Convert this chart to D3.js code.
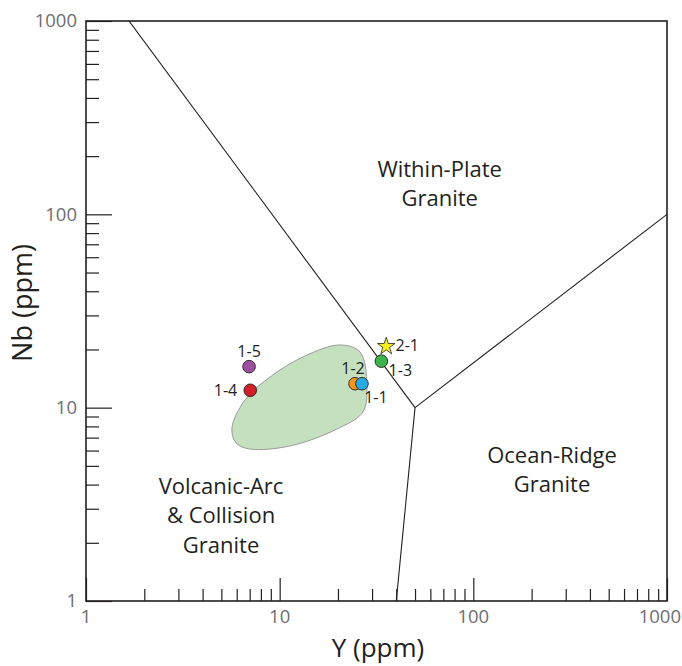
<!DOCTYPE html>
<html><head><meta charset="utf-8">
<script src="https://cdn.jsdelivr.net/npm/d3@7"></script>
<style>body{margin:0;background:#fff}svg{display:block}text{font-family:"Open Sans",sans-serif}</style>
</head><body><svg id="c" width="682" height="666"></svg>
<script>
// Samples
const sampleNames = ["1-5","1-4","1-2","1-1","1-3","2-1"];
const sampleY  = [6.95, 7.05, 24.5, 26.6, 33.5, 35.5];
const sampleNb = [16.3, 12.3, 13.3, 13.3, 17.4, 21.0];
const sampleColors = ["#9d4e9f","#d21f2b","#f7941d","#27aae1","#3cb44a","#f5f01e"];
const sampleShapes = ["circle","circle","circle","circle","circle","star"];
// Green reference field outline (Y, Nb)
const fieldY  = [5.67, 6.62, 8.91, 13.5, 20.5, 26.0, 28.2, 26.9, 19.3, 11.3, 7.02, 5.95];
const fieldNb = [7.85, 10.96, 14.4, 18.5, 21.1, 19.4, 13.1, 9.5, 7.67, 6.34, 6.11, 6.57];
// Discrimination boundaries (Pearce et al. 1984)
const boundaryA = [[1, 2000], [50, 10]];   // WPG / VAG+syn-COLG
const boundaryB = [[50, 10], [1000, 100]]; // WPG / ORG
const boundaryC = [[50, 10], [40, 1]];     // VAG / ORG
// Region labels
const regionLabels = [
  {lines:["Within-Plate","Granite"], Y:67, Nb:156},
  {lines:["Ocean-Ridge","Granite"], Y:255, Nb:5.2},
  {lines:["Volcanic-Arc","& Collision","Granite"], Y:4.98, Nb:3.58}
];
const xTicks = [1,10,100,1000];
const yTicks = [1,10,100,1000];

const svg = d3.select("#c");
const L=86,R=667,T=21,B=601;
const x = d3.scaleLog().domain([1,1000]).range([L,R]);
const y = d3.scaleLog().domain([1,1000]).range([B,T]);

const defs = svg.append("defs");
defs.append("clipPath").attr("id","clip").append("rect").attr("x",L).attr("y",T).attr("width",R-L).attr("height",B-T);

// field
const field = fieldY.map((v,i)=>[x(v), y(fieldNb[i])]);
svg.append("path").attr("d", d3.line().curve(d3.curveCatmullRomClosed.alpha(0.5))(field))
  .attr("fill","#c5e0bf").attr("stroke","#9a9a9a").attr("stroke-width",1);

// boundaries
const g = svg.append("g").attr("clip-path","url(#clip)");
[boundaryA,boundaryB,boundaryC].forEach(b=>{
  g.append("path").attr("d", d3.line().x(d=>x(d[0])).y(d=>y(d[1]))(b))
   .attr("fill","none").attr("stroke","#231f20").attr("stroke-width",1.1);
});

// minor/major ticks via axes
const allTicks = [];
for (let e=0;e<3;e++) for (let k=1;k<10;k++) allTicks.push(k*Math.pow(10,e));
allTicks.push(1000);
const minor = allTicks.filter(t=>!xTicks.includes(t));
const xAxMinor = d3.axisTop(x).tickValues(minor).tickSize(12).tickFormat("");
const xAxMajor = d3.axisTop(x).tickValues(xTicks).tickSize(23).tickFormat("");
const yAxMinor = d3.axisRight(y).tickValues(minor).tickSize(13).tickFormat("");
const yAxMajor = d3.axisRight(y).tickValues(yTicks).tickSize(26).tickFormat("");
[xAxMinor,xAxMajor].forEach(a=>{
  const gg = svg.append("g").attr("transform",`translate(0,${B})`).call(a);
  gg.select(".domain").remove();
  gg.selectAll("line").attr("stroke","#231f20").attr("stroke-width",1.2);
});
[yAxMinor,yAxMajor].forEach(a=>{
  const gg = svg.append("g").attr("transform",`translate(${L},0)`).call(a);
  gg.select(".domain").remove();
  gg.selectAll("line").attr("stroke","#231f20").attr("stroke-width",1.2);
});

// frame
svg.append("rect").attr("x",L).attr("y",T).attr("width",R-L).attr("height",B-T)
  .attr("fill","none").attr("stroke","#231f20").attr("stroke-width",1.6);

// tick labels
svg.append("g").selectAll("text").data(yTicks).join("text")
  .attr("x",L-9).attr("y",d=>y(d)).attr("dy","0.35em").attr("text-anchor","end")
  .attr("font-size",18.5).attr("fill","#6d6e71").text(d=>d);
svg.append("g").selectAll("text").data(xTicks).join("text")
  .attr("x",d=>d===1000?681:x(d)).attr("y",B+22).attr("text-anchor",d=>d===1000?"end":"middle")
  .attr("font-size",18.5).attr("fill","#6d6e71").text(d=>d);

// axis titles
svg.append("text").attr("x",378).attr("y",657).attr("text-anchor","middle")
  .attr("font-size",26).attr("fill","#231f20").text("Y (ppm)");
svg.append("text").attr("transform","translate(32,303) rotate(-90)").attr("text-anchor","middle")
  .attr("font-size",27).attr("fill","#231f20").text("Nb (ppm)");

// region labels
regionLabels.forEach(r=>{
  const t = svg.append("text").attr("text-anchor","middle").attr("font-size",22).attr("fill","#231f20");
  r.lines.forEach((ln,i)=>{
    t.append("tspan").attr("x",x(r.Y)).attr("y",y(r.Nb)+i*29.5).text(ln);
  });
});

// points
const star = d3.symbol().type(d3.symbolStar).size(95);
sampleNames.forEach((n,i)=>{
  const px=x(sampleY[i]), py=y(sampleNb[i]);
  if (sampleShapes[i]==="star") {
    svg.append("path").attr("d",star()).attr("transform",`translate(${px},${py+1})`)
      .attr("fill",sampleColors[i]).attr("stroke","#231f20").attr("stroke-width",0.8);
  } else {
    svg.append("circle").attr("cx",px).attr("cy",py).attr("r",6.3)
      .attr("fill",sampleColors[i]).attr("stroke","#231f20").attr("stroke-width",0.9);
  }
});
// point labels
const labelOffsets = {"1-5":[0,-15,"middle"],"1-4":[-13,0,"end"],"1-2":[-2,-15,"middle"],"1-1":[14,14,"middle"],"1-3":[19,9,"middle"],"2-1":[21,0,"middle"]};
sampleNames.forEach((n,i)=>{
  const o = labelOffsets[n];
  svg.append("text").attr("x",x(sampleY[i])+o[0]).attr("y",y(sampleNb[i])+o[1]).attr("dy","0.35em")
    .attr("text-anchor",o[2]).attr("font-size",16).attr("fill","#231f20").text(n);
});
</script></body></html>
